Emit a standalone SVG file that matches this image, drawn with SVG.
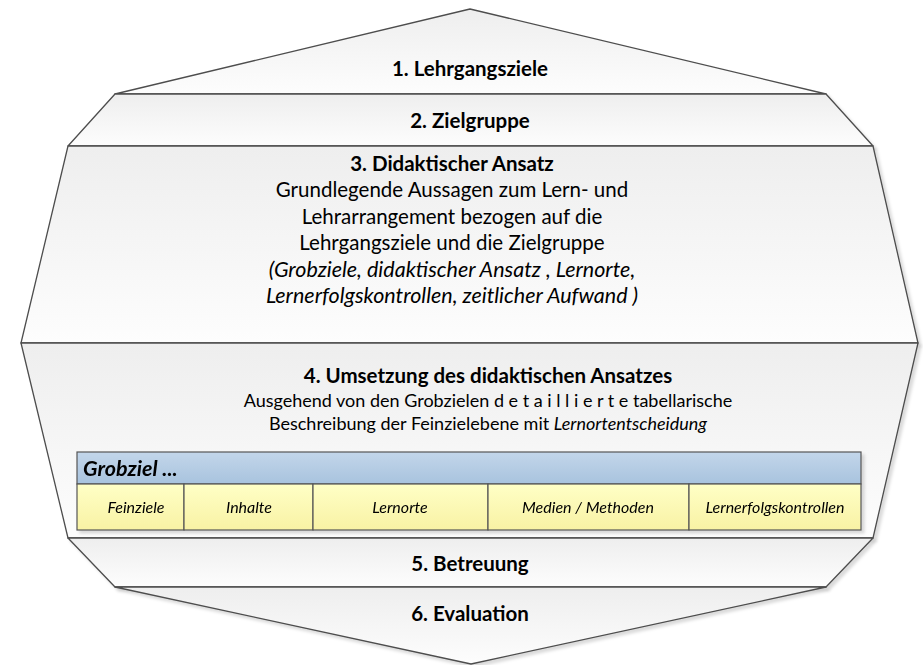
<svg xmlns="http://www.w3.org/2000/svg" width="923" height="665" viewBox="0 0 923 665">
<defs>
<linearGradient id="gGray" x1="0" y1="0" x2="0" y2="1">
<stop offset="0" stop-color="#eeeeee"/>
<stop offset="1" stop-color="#fdfdfd"/>
</linearGradient>
<linearGradient id="gBlue" x1="0" y1="0" x2="0" y2="1">
<stop offset="0" stop-color="#c3d6ea"/>
<stop offset="1" stop-color="#a8c3de"/>
</linearGradient>
<linearGradient id="gYellow" x1="0" y1="0" x2="0" y2="1">
<stop offset="0" stop-color="#ffffc6"/>
<stop offset="1" stop-color="#f8f2a4"/>
</linearGradient>
<filter id="sh" x="-5%" y="-5%" width="115%" height="120%">
<feDropShadow dx="3" dy="3" stdDeviation="1.5" flood-color="#000" flood-opacity="0.14"/>
</filter>
</defs>
<style>
.band{fill:url(#gGray);stroke:#4d4d4d;stroke-width:1.3;stroke-linejoin:round;filter:url(#sh)}
.t{font-family:Lato,"Open Sans","Liberation Sans",sans-serif;fill:#000;text-anchor:middle}
.b{font-weight:bold;font-size:20.5px}
.r{font-size:20.5px}
.ri{font-size:21.5px;font-style:italic}
.s{font-size:18px}
.hdr{fill:url(#gBlue);stroke:#555;stroke-width:1.2}
.cell{fill:url(#gYellow);stroke:#555;stroke-width:1.2}
.c{font-family:Lato,"Open Sans","Liberation Sans",sans-serif;font-style:italic;font-size:16px;fill:#000;text-anchor:middle}
</style>
<g id="n1">
<path class="band" d="M470,9 L826,94 L115,94 Z"/>
<text class="t b" x="470" y="76">1. Lehrgangsziele</text>
</g>
<g id="n2">
<path class="band" d="M115,94 L826,94 L873,146 L68,146 Z"/>
<text class="t b" x="470" y="128">2. Zielgruppe</text>
</g>
<g id="n3">
<path class="band" d="M68,146 L873,146 L918,343 L21,343 Z"/>
<text class="t b" x="452" y="171">3. Didaktischer Ansatz</text>
<text class="t r" x="452" y="197">Grundlegende Aussagen zum Lern- und</text>
<text class="t r" x="452" y="224">Lehrarrangement bezogen auf die</text>
<text class="t r" x="452" y="250">Lehrgangsziele und die Zielgruppe</text>
<text class="t ri" x="452" y="277">(Grobziele, didaktischer Ansatz , Lernorte,</text>
<text class="t ri" x="452" y="303">Lernerfolgskontrollen, zeitlicher Aufwand )</text>
</g>
<g id="n4">
<path class="band" d="M21,343 L918,343 L873,538 L68,538 Z"/>
<text class="t b" x="488" y="383">4. Umsetzung des didaktischen Ansatzes</text>
<text class="t s" x="488" y="407">Ausgehend von den Grobzielen d e t a i l l i e r t e tabellarische</text>
<text class="t s" x="488" y="430">Beschreibung der Feinzielebene mit <tspan font-style="italic">Lernortentscheidung</tspan></text>
</g>
<g id="table" filter="url(#sh)">
<rect class="hdr" x="77" y="452" width="784" height="32"/>
<text x="83" y="476" style="font-family:Lato,'Open Sans','Liberation Sans',sans-serif;font-weight:bold;font-style:italic;font-size:21.5px;fill:#000">Grobziel ...</text>
<rect class="cell" x="77" y="484" width="107" height="46"/>
<rect class="cell" x="184" y="484" width="129" height="46"/>
<rect class="cell" x="313" y="484" width="175" height="46"/>
<rect class="cell" x="488" y="484" width="201" height="46"/>
<rect class="cell" x="689" y="484" width="172" height="46"/>
<text class="c" x="136" y="513">Feinziele</text>
<text class="c" x="249" y="513">Inhalte</text>
<text class="c" x="400" y="513">Lernorte</text>
<text class="c" x="588" y="513">Medien / Methoden</text>
<text class="c" x="775" y="513">Lernerfolgskontrollen</text>
</g>
<g id="n5">
<path class="band" d="M68,538 L873,538 L826,587 L115,587 Z"/>
<text class="t b" x="470" y="571">5. Betreuung</text>
</g>
<g id="n6">
<path class="band" d="M115,587 L826,587 L471,664 Z"/>
<text class="t b" x="470" y="621">6. Evaluation</text>
</g>
<g id="connectors"></g>
</svg>
